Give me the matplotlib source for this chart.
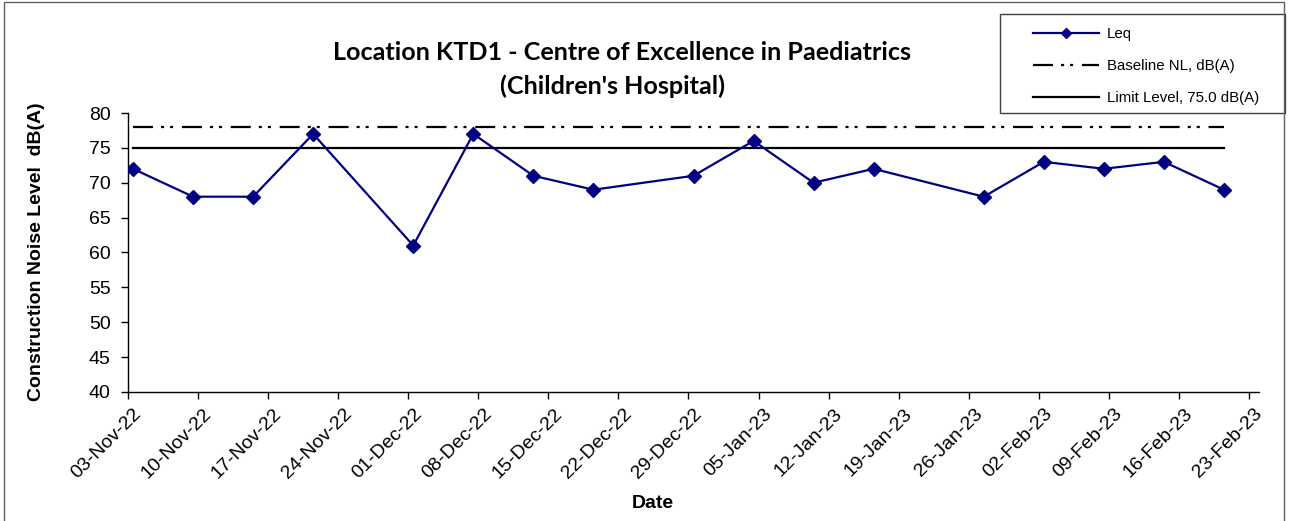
import matplotlib
matplotlib.use("Agg")
import matplotlib.pyplot as plt
import matplotlib.dates as mdates
import matplotlib.transforms as mtransforms
import pandas as pd
from matplotlib.lines import Line2D
from matplotlib.patches import Rectangle

plt.rcParams['font.family'] = ['Liberation Sans', 'DejaVu Sans']
plt.rcParams['lines.scale_dashes'] = False

# ---------------- data ----------------
dates = ["2022-11-03", "2022-11-09", "2022-11-15", "2022-11-21", "2022-12-01",
         "2022-12-07", "2022-12-13", "2022-12-19", "2022-12-29", "2023-01-04",
         "2023-01-10", "2023-01-16", "2023-01-27", "2023-02-02", "2023-02-08",
         "2023-02-14", "2023-02-20"]
leq = [72, 68, 68, 77, 61, 77, 71, 69, 71, 76, 70, 72, 68, 73, 72, 73, 69]
baseline_level = 78.0
limit_level = 75.0
tick_start = "2022-11-03"
tick_end = "2023-02-23"
axis_end = "2023-02-24"
y_ticks = [40, 45, 50, 55, 60, 65, 70, 75, 80]

title_line1 = "Location KTD1 - Centre of Excellence in Paediatrics"
title_line2 = "(Children's Hospital)"
y_label = "Construction Noise Level  dB(A)"
x_label = "Date"
legend_labels = ["Leq", "Baseline NL, dB(A)", "Limit Level, 75.0 dB(A)"]

# ---------------- figure ----------------
W, H = 1298, 521
fig = plt.figure(figsize=(W / 100, H / 100), dpi=100)

def fx(px):
    return px / W

def fy(py):
    return 1 - py / H

ax_l, ax_r, ax_t, ax_b = 128, 1259, 113, 392
ax = fig.add_axes([fx(ax_l), fy(ax_b), (ax_r - ax_l) / W, (ax_b - ax_t) / H])

x = pd.to_datetime(dates) + pd.Timedelta(hours=12)  # Excel plots between tick marks
baseline = [baseline_level] * len(x)
limit = [limit_level] * len(x)

navy = '#000080'
dashdotdot = (0, (14.4, 5.8, 2.2, 4.3, 2.2, 6.3))
ax.plot(x, baseline, color='black', lw=1.6, ls=dashdotdot, zorder=2)
ax.plot(x, limit, color='black', lw=1.6, zorder=2)
ax.plot(x, leq, color=navy, lw=1.6, marker='D', markersize=7,
        markerfacecolor=navy, markeredgecolor=navy, zorder=3)

ticks = pd.date_range(tick_start, tick_end, freq='7D')
ax.set_xlim(pd.Timestamp(tick_start), pd.Timestamp(axis_end))
ax.set_xticks(ticks)
ax.xaxis.set_major_formatter(mdates.DateFormatter('%d-%b-%y'))
ax.set_ylim(40, 80)
ax.set_yticks(y_ticks)

for s in ['top', 'right']:
    ax.spines[s].set_visible(False)
for s in ['left', 'bottom']:
    ax.spines[s].set_color('black')
    ax.spines[s].set_linewidth(1.0)
ax.tick_params(axis='both', direction='out', length=5, width=1, colors='black', labelsize=14)
ax.tick_params(axis='y', pad=7.5)
ax.tick_params(axis='x', pad=1)
shift = mtransforms.ScaledTranslation(5 / 100, -5 / 100, fig.dpi_scale_trans)
for tick in ax.xaxis.get_major_ticks():
    lab = tick.label1
    lab.set_rotation(45)
    lab.set_ha('right')
    lab.set_rotation_mode('anchor')
    lab.set_transform(lab.get_transform() + shift)

# titles and labels (Calibri-like title -> Lato bold, fitted to reference width)
t1 = fig.text(fx(622), fy(52), title_line1, ha='center', va='center', fontsize=15,
              fontweight='bold', family=['Lato', 'DejaVu Sans'])
t2 = fig.text(fx(612.5), fy(86), title_line2, ha='center', va='center', fontsize=15,
              fontweight='bold', family=['Lato', 'DejaVu Sans'])
fig.canvas.draw()
r = fig.canvas.get_renderer()
w1 = t1.get_window_extent(r).width
scale = 580 / w1
t1.set_fontsize(15 * scale)
t2.set_fontsize(15 * scale)

fig.text(fx(37), fy(252), y_label, ha='center', va='center', rotation=90, fontsize=14, fontweight='bold')
fig.text(fx(653), fy(504), x_label, ha='center', va='center', fontsize=14, fontweight='bold')

# legend
handles = [
    Line2D([], [], color=navy, lw=1.6, marker='D', markersize=5),
    Line2D([], [], color='black', lw=1.6, ls=dashdotdot),
    Line2D([], [], color='black', lw=1.6),
]
leg = fig.legend(handles, legend_labels, loc='upper left',
                 bbox_to_anchor=(fx(1033), fy(27)), frameon=False, borderpad=0,
                 fontsize=10.8, handlelength=4.4, handletextpad=0.53, labelspacing=1.2,
                 borderaxespad=0)
fig.patches.append(Rectangle((fx(1000), fy(113)), 285 / W, 99 / H, transform=fig.transFigure,
                             fill=False, edgecolor='#404040', lw=1.0))

# chart border
fig.patches.append(Rectangle((fx(4), fy(540)), 1280 / W, 538 / H, transform=fig.transFigure,
                             fill=False, edgecolor='#606060', lw=1.0))

fig.savefig('out.png', dpi=100)
